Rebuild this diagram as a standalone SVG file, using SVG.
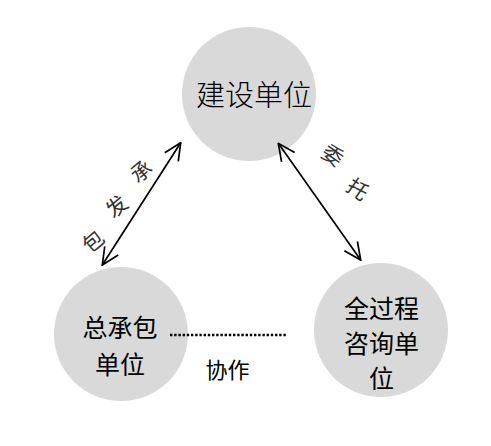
<svg xmlns="http://www.w3.org/2000/svg" width="491" height="446" viewBox="0 0 491 446">
<style>
.node{fill:#d9d9d9}
.t{font-family:"Noto Sans CJK SC","Liberation Sans",sans-serif;fill:#000;text-anchor:middle}
.lbl{font-family:"Noto Sans CJK SC","Liberation Sans",sans-serif;fill:#333;text-anchor:middle;font-size:21px}
.conn{stroke:#000;stroke-width:1.7;fill:none}
</style>
<defs>
<marker id="ah" viewBox="0 0 19 19" refX="18" refY="9.5" markerWidth="19" markerHeight="19" markerUnits="userSpaceOnUse" orient="auto-start-reverse">
<path d="M1,1.5 L18,9.5 L1,17.5" fill="none" stroke="#000" stroke-width="1.7"/>
</marker>
</defs>
<rect width="491" height="446" fill="#fff"/>
<g id="node-jianshe">
<circle class="node" cx="249" cy="94" r="67"/>
<text class="t" x="254" y="106" font-size="29" font-weight="300">建设单位</text>
</g>
<g id="node-zongchengbao">
<circle class="node" cx="121" cy="334" r="67"/>
<text class="t" x="120" y="337" font-size="25">总承包</text>
<text class="t" x="120" y="373.5" font-size="25">单位</text>
</g>
<g id="node-quanguocheng">
<circle class="node" cx="381" cy="330" r="67"/>
<text class="t" x="381.5" y="317.5" font-size="25">全过程</text>
<text class="t" x="381.5" y="352.5" font-size="25">咨询单</text>
<text class="t" x="381.5" y="387.5" font-size="25">位</text>
</g>
<g id="connectors">
<line class="conn" x1="102.3" y1="265" x2="180.7" y2="142.7" marker-start="url(#ah)" marker-end="url(#ah)"/>
<line class="conn" x1="278.3" y1="143.3" x2="360.7" y2="260" marker-start="url(#ah)" marker-end="url(#ah)"/>
<line x1="170" y1="335" x2="287" y2="335" stroke="#000" stroke-width="2.6" stroke-dasharray="2.4 1.8"/>
<g id="label-chengfabao">
<text class="lbl" transform="translate(141,171) rotate(-40)" x="0" y="8">承</text>
<text class="lbl" transform="translate(116.5,206) rotate(-40)" x="0" y="8">发</text>
<text class="lbl" transform="translate(93,241) rotate(-40)" x="0" y="8">包</text>
</g>
<g id="label-weituo">
<text class="lbl" transform="translate(333,155) rotate(35)" x="0" y="8">委</text>
<text class="lbl" transform="translate(358,189) rotate(35)" x="0" y="8">托</text>
</g>
<text class="t" x="227.5" y="378.4" font-size="22" fill="#222">协作</text>
</g>
</svg>
